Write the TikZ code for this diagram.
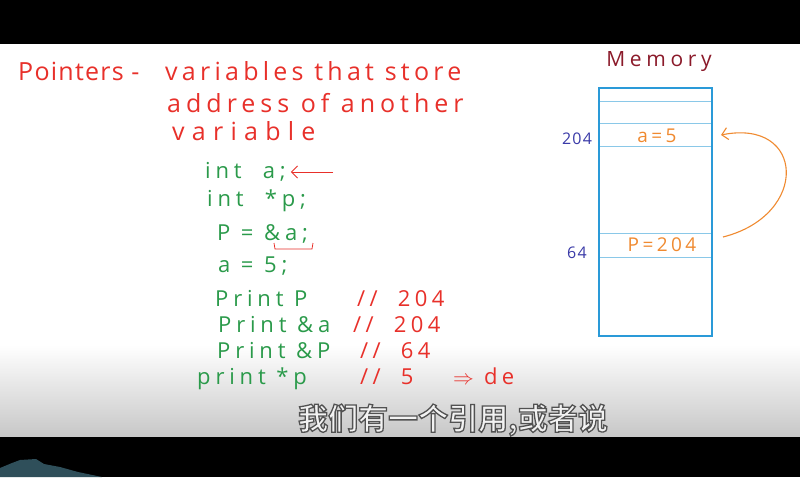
\documentclass[tikz,border=0pt]{standalone}
\usepackage{fontspec}
\setmainfont{Open Sans}
\newfontfamily\cjk{Noto Sans CJK SC}[BoldFont={* Bold}]
\usetikzlibrary{arrows.meta}

\definecolor{penred}{HTML}{E8302A}
\definecolor{pengreen}{HTML}{2A9A4A}
\definecolor{penblue}{HTML}{3A3AA8}
\definecolor{penorange}{HTML}{F08A30}
\definecolor{boxblue}{HTML}{2A9AD8}
\definecolor{rowblue}{HTML}{8AC8E8}
\definecolor{darkred}{HTML}{8B1A2A}
\definecolor{teal}{HTML}{2F4F5A}

% outlined subtitle text: fill, then stroke the glyphs
\newcommand\outlined[1]{\special{pdf:code 2 Tr 0.32 0.32 0.32 RG 1.3 w}#1\special{pdf:code 0 Tr 0.4 w}}

\tikzset{
  defn/.style={text=penred, anchor=base west, inner sep=0pt, font=\fontsize{25}{27}\selectfont\addfontfeature{LetterSpace=#1}},
  defn/.default=17,
  code/.style={text=pengreen, anchor=base west, inner sep=0pt, font=\fontsize{22}{24}\selectfont\addfontfeature{LetterSpace=#1}},
  code/.default=22,
  note/.style={text=penred, anchor=base west, inner sep=0pt, font=\fontsize{22}{24}\selectfont\addfontfeature{LetterSpace=20}},
  addr/.style={text=penblue, font=\fontsize{16}{18}\selectfont\addfontfeature{LetterSpace=8}},
  cell/.style={text=penorange, font=\fontsize{19}{20}\selectfont\addfontfeature{LetterSpace=18}},
  subtitle/.style={text=white!95!black, font=\cjk\bfseries\fontsize{30}{32}\selectfont}
}

\begin{document}
\begin{tikzpicture}[x=1pt, y=-1pt, >={Straight Barb[length=6pt]}]
  \useasboundingbox (0,0) rectangle (800,477);
  % frame of the video
  \fill[white] (0,44) rectangle (800,437);
  \shade[top color=white, bottom color=black!22] (0,345) rectangle (800,437);
  \fill[black] (0,0) rectangle (800,44);
  \fill[black] (0,437) rectangle (800,477);
  \fill[teal] (0,477) -- (0,468) -- (12,463) -- (20,460) -- (36,459) -- (44,464) -- (60,467) -- (78,472) -- (102,477) -- cycle;

  % definition
  \node[defn=5] (ptr) at (18,80) {Pointers -};
  \node[defn] (def1) at (165,80) {variables that store};
  \node[defn=20] (def2) at (167,112) {address of another};
  \node[defn=29] (def3) at (172,140) {variable};

  % code
  \node[code] (inta) at (205,178) {int\ \ a;};
  \node[code] (intp) at (207,206) {int\ \ *p;};
  \node[code] (assign) at (217,240) {P = \&a;};
  \node[code] (seta) at (218,272) {a = 5;};
  \node[code] (prp) at (215,306) {Print P};
  \node[code] (pra) at (218,332) {Print \&a};
  \node[code] (prap) at (217,358) {Print \&P};
  \node[code] (prsp) at (197,384) {print *p};
  \node[note] (outp) at (357,306) {//\ \ 204};
  \node[note] (outa) at (353,332) {//\ \ 204};
  \node[note] (outap) at (360,358) {//\ \ 64};
  \node[note] (outsp) at (360,384) {//\ \ 5};
  \node[note] (deref) at (453,384) {$\Rightarrow$\ de};

  \coordinate (arrtail) at (333,172);
  \draw[penred, thick, ->] (arrtail) -- ([xshift=5pt]inta.east |- arrtail);
  \draw[penred, thick] (274,243) -- (275,249) -- (312,249) -- (313,243);

  % memory
  \node[text=darkred, font=\fontsize{21}{22}\selectfont\addfontfeature{LetterSpace=22}] (mem) at (659,62) {Memory};
  \foreach \y in {101,123,146,233,257}
    \draw[rowblue, thick] (599,\y) -- (712,\y);
  \draw[boxblue, line width=1.6pt] (599,88) rectangle (712,336);
  \node[addr] (addra) at (577,139) {204};
  \node[addr] (addrp) at (577,253) {64};
  \node[cell] (cella) at (657,136) {a=5};
  \node[cell] (cellp) at (662,245) {P=204};
  \coordinate (pout) at (723,237);
  \coordinate (ain) at (721,135);
  \draw[penorange, line width=1.1pt, ->] (pout) .. controls (810,215) and (805,118) .. (ain);

  % subtitle
  \node[subtitle] (sub) at (453,420) {\outlined{我们有一个引用,或者说}};
\end{tikzpicture}
\end{document}
